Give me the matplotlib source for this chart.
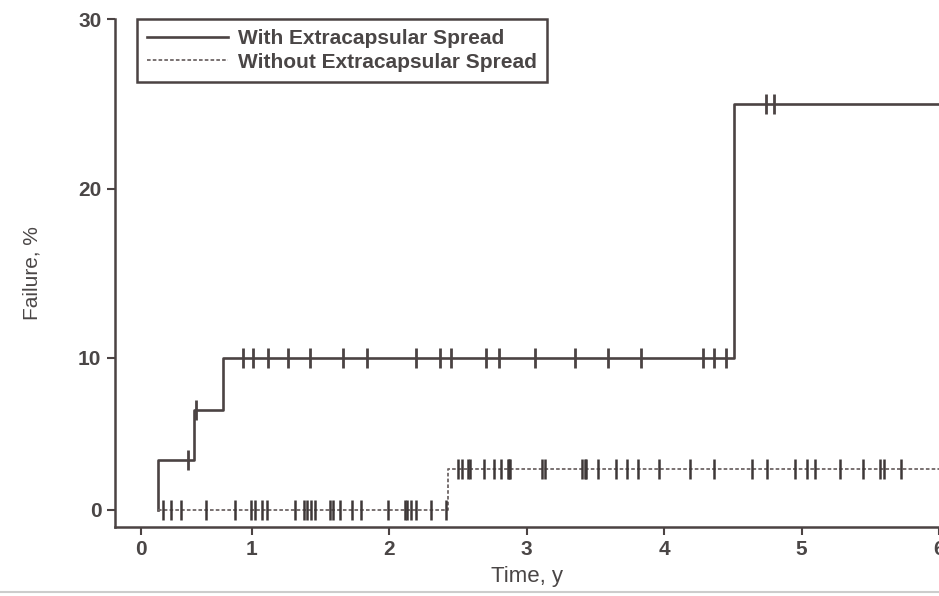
import numpy as np
import matplotlib
matplotlib.use("Agg")
import matplotlib.pyplot as plt

# cumulative failure step curves (time in years, failure in %)
with_t = [0.15, 0.15, 0.48, 0.74, 4.51, 6.0]
with_y = [0.0, 3.3, 6.6, 10.0, 25.0, 25.0]
without_t = [0.15, 2.43, 6.0]
without_y = [0.0, 2.7, 2.7]

# censored observations
with_cens = [0.42, 0.50, 0.92, 1.01, 1.12, 1.26, 1.42, 1.66, 1.84, 2.19, 2.37,
             2.45, 2.70, 2.80, 3.06, 3.35, 3.59, 3.83, 4.28, 4.36, 4.45, 4.74, 4.80]
without_cens = [0.20, 0.27, 0.36, 0.59, 0.85, 0.99, 1.02, 1.07, 1.11, 1.31, 1.38,
                1.40, 1.43, 1.46, 1.57, 1.59, 1.64, 1.73, 1.79, 1.99, 2.11, 2.13,
                2.16, 2.19, 2.30, 2.41,
                2.50, 2.53, 2.57, 2.59, 2.69, 2.76, 2.81, 2.86, 2.87, 2.88, 3.11,
                3.13, 3.40, 3.42, 3.43, 3.52, 3.65, 3.73, 3.81, 3.96, 4.19, 4.36,
                4.64, 4.75, 4.95, 5.04, 5.10, 5.28, 5.45, 5.57, 5.60, 5.72]

labels = ["With Extracapsular Spread", "Without Extracapsular Spread"]
x_ticks = [0, 1, 2, 3, 4, 5, 6]
y_ticks = [0, 10, 20, 30]

plt.rcParams['font.family'] = ['Liberation Sans', 'DejaVu Sans']
dark = '#4b4343'
grey = '#6e6666'
txt = '#4a4646'


# the original axes squeeze the first interval of each axis
def x_fwd(t):
    t = np.asarray(t, dtype=float)
    return np.where(t < 1, 1 - (1 - t) * 0.808, t)


def x_inv(u):
    u = np.asarray(u, dtype=float)
    return np.where(u < 1, 1 - (1 - u) / 0.808, u)


def y_fwd(v):
    v = np.asarray(v, dtype=float)
    return np.where(v < 10, 10 - (10 - v) * 0.897, v)


def y_inv(u):
    u = np.asarray(u, dtype=float)
    return np.where(u < 10, 10 - (10 - u) / 0.897, u)


def level_at(ts, xs, ys):
    idx = np.searchsorted(xs, ts, side='right') - 1
    return np.asarray(ys)[idx]


fig = plt.figure(figsize=(9.39, 5.96), dpi=100)
ax = fig.add_axes([0.122, 0.116, 0.878, 0.852])
ax.set_xscale('function', functions=(x_fwd, x_inv))
ax.set_yscale('function', functions=(y_fwd, y_inv))

ax.step(with_t, with_y, where='post', color=dark, lw=1.9, label=labels[0])
ax.step(without_t, without_y, where='post', color=grey, lw=1.3,
        linestyle=(0, (2.0, 1.2)), label=labels[1])

ax.plot(with_cens, level_at(with_cens, with_t, with_y), ls='none',
        marker='|', ms=15, mew=2.0, color=dark)
ax.plot(without_cens, level_at(without_cens, without_t, without_y), ls='none',
        marker='|', ms=15, mew=1.8, color='#3e3838')

ax.set_xlim(-0.238, 6.0)
ax.set_ylim(-1.11, 30)
ax.set_xticks(x_ticks)
ax.set_xticklabels([str(v) for v in x_ticks])
ax.set_yticks(y_ticks)
ax.set_yticklabels([str(v) for v in y_ticks])

for side in ['top', 'right']:
    ax.spines[side].set_visible(False)
for side in ['left', 'bottom']:
    ax.spines[side].set_color(dark)
    ax.spines[side].set_linewidth(1.8)
ax.tick_params(axis='both', colors=dark, width=1.5, length=6,
               labelsize=15, labelcolor=txt)
for lab in ax.get_xticklabels() + ax.get_yticklabels():
    lab.set_fontweight('bold')

ax.set_xlabel("Time, y", fontsize=16, color=txt, labelpad=5)
ax.set_ylabel("Failure, %", fontsize=15, color=txt, labelpad=26)

leg = ax.legend(loc='upper left', bbox_to_anchor=(0.027, 1.0), borderaxespad=0,
                fancybox=False, framealpha=1, edgecolor=dark, handlelength=3.9,
                handletextpad=0.45, labelspacing=0.2, borderpad=0.5,
                prop={'size': 15, 'weight': 'bold'})
leg.get_frame().set_linewidth(1.8)
for t in leg.get_texts():
    t.set_color(txt)

fig.add_artist(plt.Line2D([0, 1], [0.006, 0.006], color='#cccccc', lw=1.5))

fig.savefig("out.png", dpi=100)
